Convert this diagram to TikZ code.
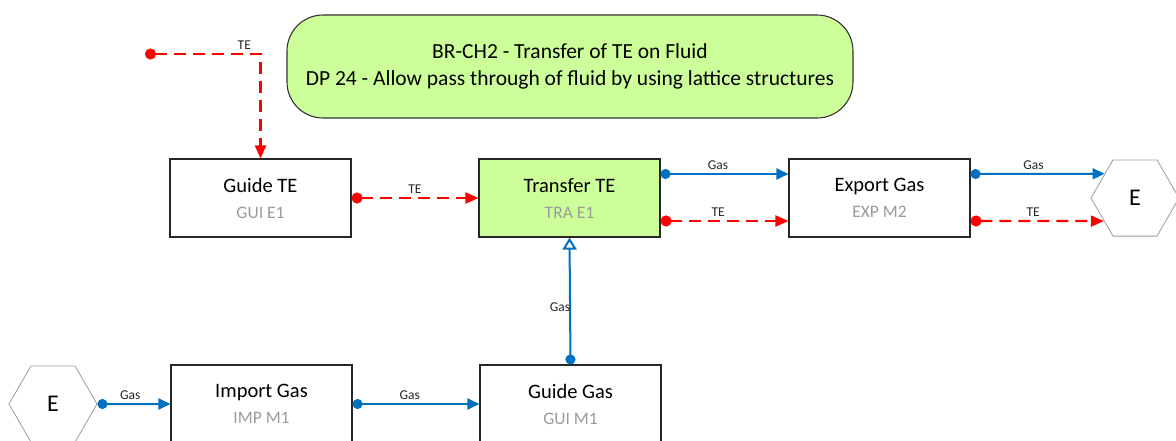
\documentclass[tikz,border=0pt]{standalone}
\usepackage{fontspec}
\setmainfont{Carlito}
\usetikzlibrary{arrows.meta,shapes.geometric,calc}

\definecolor{funcGreen}{RGB}{204,255,153}
\definecolor{flowBlue}{RGB}{0,112,192}
\definecolor{flowRed}{RGB}{255,0,0}
\definecolor{subGray}{RGB}{155,155,155}

\tikzset{
    func/.style={draw=black!85, line width=1.1pt, fill=white, minimum width=181pt, minimum height=78pt, align=center, font=\fontsize{20.5}{26}\selectfont},
    env/.style={draw=subGray, line width=0.8pt, regular polygon, regular polygon sides=6, minimum size=88pt, inner sep=0pt, font=\fontsize{24}{28}\selectfont},
    gasFlow/.style={draw=flowBlue, line width=2pt, {Circle[length=10pt]}-{Triangle[length=12pt,width=11pt]}},
    teFlow/.style={draw=flowRed, line width=2.2pt, dash pattern=on 12pt off 7pt, {Circle[length=11pt]}-{Triangle[length=13pt,width=11pt]}},
    flowLabel/.style={font=\fontsize{13.5}{15}\selectfont, text=black!85, inner sep=1pt, above=2pt}
}

\newcommand\subLabel[1]{{\color{subGray}\fontsize{17.5}{26}\selectfont #1}}

\begin{document}
\begin{tikzpicture}[x=1pt, y=-1pt]
    % Page
        \useasboundingbox (0,0) rectangle (1176,440);

    % Title
        \node[draw=black!80, line width=1.1pt, fill=funcGreen, rounded corners=36pt, minimum width=566pt, minimum height=103pt, align=center, font=\fontsize{21.5}{27}\selectfont] (title) at (570,66.5)
            {BR-CH2 - Transfer of TE on Fluid\\DP 24 - Allow pass through of fluid by using lattice structures};

    % Functions
        % variables
        \def\rowTop{198}
        \def\rowBottom{404}
        \def\gasY{174}
        \def\teY{221}

        % boxes
        \node[func] (guiTE) at (260.5, \rowTop) {Guide TE\\\subLabel{GUI E1}};
        \node[func, fill=funcGreen] (traTE) at (569.5, \rowTop) {Transfer TE\\\subLabel{TRA E1}};
        \node[func] (expGas) at (879.5, \rowTop) {Export Gas\\\subLabel{EXP M2}};
        \node[func] (impGas) at (261.5, \rowBottom) {Import Gas\\\subLabel{IMP M1}};
        \node[func] (guiGas) at (570.5, \rowBottom) {Guide Gas\\\subLabel{GUI M1}};

    % Environment
        \node[env] (envIn) at (53, \rowBottom) {E};
        \node[env] (envOut) at (1135, \rowTop) {E};

    % Ports
        \coordinate (teIn) at (145, 54);
        \coordinate (traGasOut) at (traTE.east |- 0,\gasY);
        \coordinate (traTEOut) at (traTE.east |- 0,\teY);
        \coordinate (expGasIn) at (expGas.west |- 0,\gasY);
        \coordinate (expTEIn) at (expGas.west |- 0,\teY);
        \coordinate (expGasOut) at (expGas.east |- 0,\gasY);
        \coordinate (expTEOut) at (expGas.east |- 0,\teY);
        \coordinate (envGasIn) at ($(envOut.corner 3)!0.63!(envOut.corner 2)$);
        \coordinate (envTEIn) at ($(envOut.corner 3)!0.6!(envOut.corner 4)$);

    % Flows
        \draw[teFlow] (teIn) -| (guiTE.north) node[flowLabel, pos=0.43] {TE};
        \draw[teFlow] (guiTE.east) -- (traTE.west) node[flowLabel, midway] {TE};
        \draw[gasFlow] (traGasOut) -- (expGasIn) node[flowLabel, pos=0.45] {Gas};
        \draw[teFlow] (traTEOut) -- (expTEIn) node[flowLabel, pos=0.45] {TE};
        \draw[gasFlow] (expGasOut) -- (envGasIn) node[flowLabel, pos=0.47] {Gas};
        \draw[teFlow] (expTEOut) -- (envTEIn) node[flowLabel, pos=0.47] {TE};
        \draw[gasFlow] (envIn.east) -- (impGas.west) node[flowLabel, pos=0.45] {Gas};
        \draw[gasFlow] (impGas.east) -- (guiGas.west) node[flowLabel, pos=0.45] {Gas};
        \draw[gasFlow, {Circle[length=10pt]}-{Triangle[open, fill=white, length=12pt, width=14pt]}] (guiGas.north) -- (traTE.south)
            node[font=\fontsize{13.5}{15}\selectfont, text=black!85, inner sep=0pt, pos=0.45, xshift=-10pt] {Gas};
\end{tikzpicture}
\end{document}
